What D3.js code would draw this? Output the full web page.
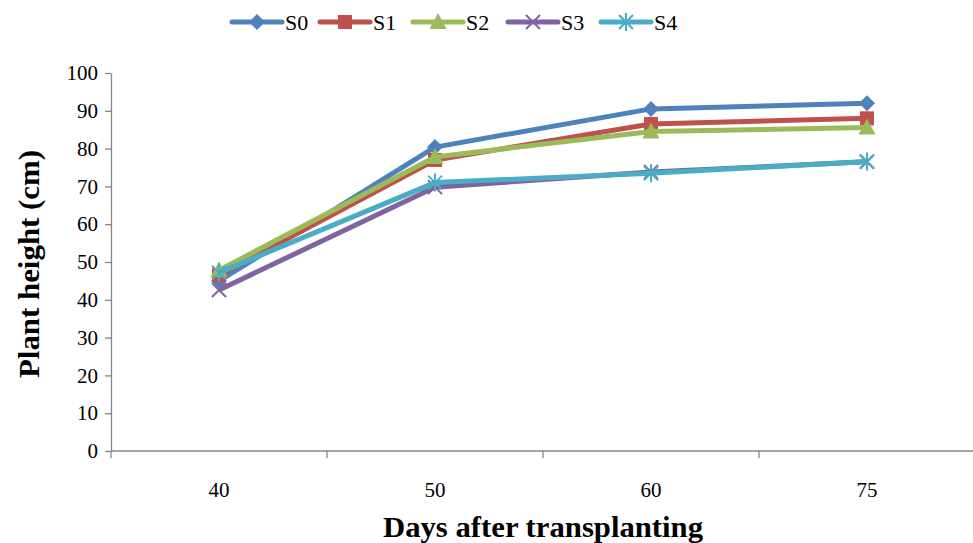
<!DOCTYPE html>
<html>
<head>
<meta charset="utf-8">
<script src="https://cdn.jsdelivr.net/npm/d3@7"></script>
<style>
  body { margin: 0; background: #fff; }
</style>
</head>
<body>
<svg id="chart" width="973" height="543"></svg>
<script>
// data
const days = ["40", "50", "60", "75"];
const seriesNames = ["S0", "S1", "S2", "S3", "S4"];
const S0 = [45, 80.4, 90.5, 92];
const S1 = [46.5, 77, 86.5, 88];
const S2 = [47.8, 77.8, 84.5, 85.6];
const S3 = [42.6, 69.8, 73.8, 76.5];
const S4 = [47.2, 71, 73.5, 76.6];
const yTicks = [0, 10, 20, 30, 40, 50, 60, 70, 80, 90, 100];

const colors = ["#4F81BD", "#C0504D", "#9BBB59", "#8064A2", "#4BACC6"];
const markers = ["diamond", "square", "triangle", "cross", "star"];
const allSeries = [S0, S1, S2, S3, S4];
const serif = "'Liberation Serif', 'Times New Roman', serif";

var margin = {top: 73, right: -2, bottom: 92, left: 111},
    width = 973 - margin.left - margin.right,
    height = 543 - margin.top - margin.bottom;

const svg = d3.select("#chart");
const g = svg.append("g")
    .attr("transform", "translate(" + margin.left + "," + margin.top + ")");

var x = d3.scaleBand().domain(days).range([0, width]);
var y = d3.scaleLinear().domain([0, 100]).range([height, 0]);

// y axis
const yAxis = g.append("g")
    .call(d3.axisLeft(y).tickValues(yTicks).tickSize(6).tickSizeOuter(0));
yAxis.select(".domain").attr("stroke", "#868686").attr("stroke-width", 1.3);
yAxis.selectAll(".tick line").attr("stroke", "#868686").attr("stroke-width", 1.3);
yAxis.selectAll(".tick text")
    .attr("x", -13)
    .style("font-size", "21px")
    .style("font-family", serif)
    .attr("fill", "#000");

// x axis with ticks between categories
const xAxis = g.append("g").attr("transform", "translate(0," + height + ")");
xAxis.append("line")
    .attr("x1", 0).attr("x2", width)
    .attr("stroke", "#868686").attr("stroke-width", 1.3);
const bounds = [0].concat(days.map(d => x(d) + x.bandwidth()));
xAxis.selectAll(".xt").data(bounds).enter().append("line")
    .attr("x1", d => d).attr("x2", d => d)
    .attr("y1", 0).attr("y2", 7)
    .attr("stroke", "#868686").attr("stroke-width", 1.3);
xAxis.selectAll(".xl").data(days).enter().append("text")
    .attr("x", d => x(d) + x.bandwidth() / 2)
    .attr("y", 46)
    .attr("text-anchor", "middle")
    .style("font-size", "21px")
    .style("font-family", serif)
    .text(d => d);

// axis titles
svg.append("text")
    .attr("x", 543).attr("y", 537)
    .attr("text-anchor", "middle")
    .style("font-size", "30px")
    .style("font-family", serif)
    .style("font-weight", "bold")
    .attr("textLength", 320)
    .attr("lengthAdjust", "spacingAndGlyphs")
    .text("Days after transplanting");
svg.append("text")
    .attr("transform", "translate(39,264) rotate(-90)")
    .attr("text-anchor", "middle")
    .style("font-size", "29px")
    .style("font-family", serif)
    .style("font-weight", "bold")
    .attr("textLength", 228)
    .attr("lengthAdjust", "spacingAndGlyphs")
    .text("Plant  height  (cm)");

function drawMarker(sel, type, color) {
    if (type === "diamond") {
        sel.append("path").attr("d", "M0,-8L8,0L0,8L-8,0Z").attr("fill", color);
    } else if (type === "square") {
        sel.append("rect").attr("x", -7).attr("y", -7).attr("width", 14).attr("height", 14).attr("fill", color);
    } else if (type === "triangle") {
        sel.append("path").attr("d", "M0,-9L8.5,7L-8.5,7Z").attr("fill", color);
    } else if (type === "cross") {
        sel.append("path").attr("d", "M-7,-7L7,7M-7,7L7,-7")
            .attr("stroke", color).attr("stroke-width", 2).attr("fill", "none");
    } else {
        sel.append("path").attr("d", "M-7,-7L7,7M-7,7L7,-7M0,-9L0,9")
            .attr("stroke", color).attr("stroke-width", 2).attr("fill", "none");
    }
}

const line = d3.line()
    .x((d, i) => x(days[i]) + x.bandwidth() / 2)
    .y(d => y(d));

allSeries.forEach((vals, k) => {
    const sg = g.append("g");
    sg.append("path")
        .datum(vals)
        .attr("fill", "none")
        .attr("stroke", colors[k])
        .attr("stroke-width", 5)
        .attr("stroke-linejoin", "round")
        .attr("d", line);
    vals.forEach((v, i) => {
        const m = sg.append("g")
            .attr("transform", "translate(" + (x(days[i]) + x.bandwidth() / 2) + "," + y(v) + ")");
        drawMarker(m, markers[k], colors[k]);
    });
});

// legend
const legendX = [232, 320, 413, 508, 601];
seriesNames.forEach((name, k) => {
    const lg = svg.append("g").attr("transform", "translate(" + legendX[k] + ",22)");
    lg.append("line")
        .attr("x1", 0).attr("x2", 50)
        .attr("stroke", colors[k]).attr("stroke-width", 5)
        .attr("stroke-linecap", "round");
    drawMarker(lg.append("g").attr("transform", "translate(25,0)"), markers[k], colors[k]);
    lg.append("text")
        .attr("x", 53).attr("y", 8)
        .style("font-size", "22px")
        .style("font-family", serif)
        .text(name);
});
</script>
</body>
</html>
